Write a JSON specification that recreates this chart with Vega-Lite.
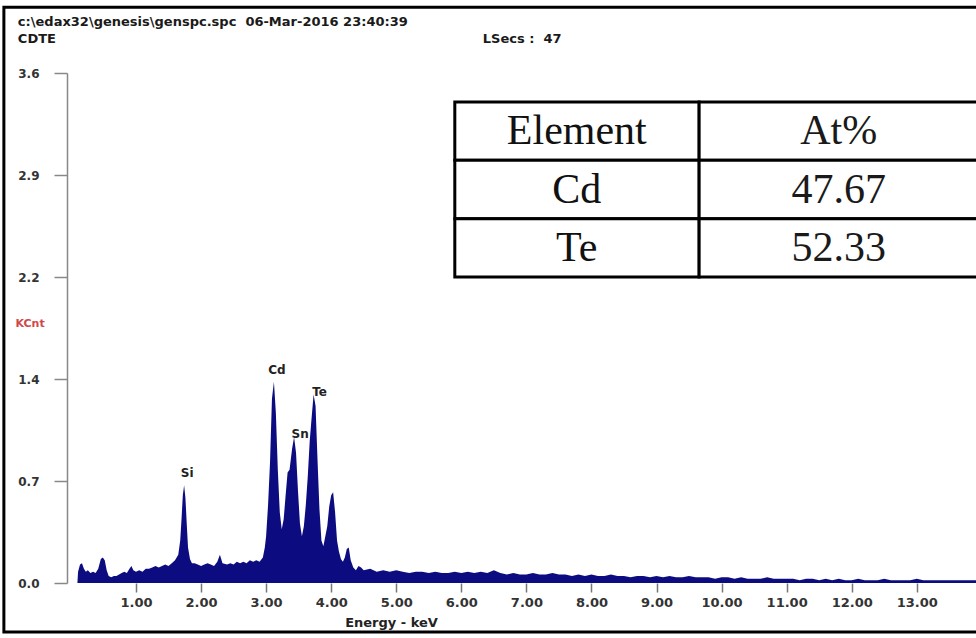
{
  "$schema": "https://vega.github.io/schema/vega-lite/v6.json",
  "width": 909,
  "height": 510,
  "autosize": {"type": "none"},
  "padding": {"left": 67, "top": 73, "right": 0, "bottom": 55},
  "background": "white",
  "config": {
    "view": {"stroke": null},
    "font": "DejaVu Sans"
  },
  "layer": [
    {
      "data": {"name": "spectrum", "values": [
        {"energy": 0.00, "kcnt": 0.0}, {"energy": 0.10, "kcnt": 0.0}, {"energy": 0.11, "kcnt": 0.08},
        {"energy": 0.14, "kcnt": 0.13}, {"energy": 0.17, "kcnt": 0.14}, {"energy": 0.20, "kcnt": 0.10},
        {"energy": 0.23, "kcnt": 0.08}, {"energy": 0.26, "kcnt": 0.09}, {"energy": 0.30, "kcnt": 0.07},
        {"energy": 0.34, "kcnt": 0.08}, {"energy": 0.38, "kcnt": 0.07}, {"energy": 0.42, "kcnt": 0.10},
        {"energy": 0.46, "kcnt": 0.17}, {"energy": 0.49, "kcnt": 0.18}, {"energy": 0.52, "kcnt": 0.16},
        {"energy": 0.55, "kcnt": 0.09}, {"energy": 0.58, "kcnt": 0.05}, {"energy": 0.62, "kcnt": 0.04},
        {"energy": 0.66, "kcnt": 0.05}, {"energy": 0.70, "kcnt": 0.05}, {"energy": 0.74, "kcnt": 0.06},
        {"energy": 0.78, "kcnt": 0.07}, {"energy": 0.82, "kcnt": 0.08}, {"energy": 0.86, "kcnt": 0.07},
        {"energy": 0.90, "kcnt": 0.10}, {"energy": 0.93, "kcnt": 0.12}, {"energy": 0.96, "kcnt": 0.09},
        {"energy": 1.00, "kcnt": 0.08}, {"energy": 1.05, "kcnt": 0.09}, {"energy": 1.10, "kcnt": 0.08},
        {"energy": 1.15, "kcnt": 0.10}, {"energy": 1.20, "kcnt": 0.10}, {"energy": 1.25, "kcnt": 0.11},
        {"energy": 1.30, "kcnt": 0.12}, {"energy": 1.35, "kcnt": 0.11}, {"energy": 1.40, "kcnt": 0.12},
        {"energy": 1.45, "kcnt": 0.13}, {"energy": 1.50, "kcnt": 0.12}, {"energy": 1.55, "kcnt": 0.14},
        {"energy": 1.60, "kcnt": 0.16}, {"energy": 1.65, "kcnt": 0.20}, {"energy": 1.68, "kcnt": 0.30},
        {"energy": 1.70, "kcnt": 0.45}, {"energy": 1.72, "kcnt": 0.62}, {"energy": 1.74, "kcnt": 0.69},
        {"energy": 1.76, "kcnt": 0.60}, {"energy": 1.78, "kcnt": 0.42}, {"energy": 1.80, "kcnt": 0.25},
        {"energy": 1.83, "kcnt": 0.17}, {"energy": 1.86, "kcnt": 0.14}, {"energy": 1.90, "kcnt": 0.14},
        {"energy": 1.95, "kcnt": 0.13}, {"energy": 2.00, "kcnt": 0.12}, {"energy": 2.05, "kcnt": 0.13},
        {"energy": 2.10, "kcnt": 0.14}, {"energy": 2.15, "kcnt": 0.13}, {"energy": 2.20, "kcnt": 0.12},
        {"energy": 2.25, "kcnt": 0.15}, {"energy": 2.29, "kcnt": 0.20}, {"energy": 2.33, "kcnt": 0.14},
        {"energy": 2.40, "kcnt": 0.13}, {"energy": 2.45, "kcnt": 0.14}, {"energy": 2.50, "kcnt": 0.13},
        {"energy": 2.55, "kcnt": 0.15}, {"energy": 2.60, "kcnt": 0.14}, {"energy": 2.65, "kcnt": 0.15},
        {"energy": 2.70, "kcnt": 0.14}, {"energy": 2.75, "kcnt": 0.16}, {"energy": 2.80, "kcnt": 0.15},
        {"energy": 2.85, "kcnt": 0.16}, {"energy": 2.90, "kcnt": 0.15}, {"energy": 2.95, "kcnt": 0.18},
        {"energy": 2.98, "kcnt": 0.25}, {"energy": 3.00, "kcnt": 0.33}, {"energy": 3.03, "kcnt": 0.55},
        {"energy": 3.06, "kcnt": 0.85}, {"energy": 3.09, "kcnt": 1.30}, {"energy": 3.12, "kcnt": 1.42},
        {"energy": 3.15, "kcnt": 1.20}, {"energy": 3.18, "kcnt": 0.80}, {"energy": 3.21, "kcnt": 0.50},
        {"energy": 3.24, "kcnt": 0.38}, {"energy": 3.27, "kcnt": 0.45}, {"energy": 3.30, "kcnt": 0.62},
        {"energy": 3.33, "kcnt": 0.78}, {"energy": 3.36, "kcnt": 0.80}, {"energy": 3.40, "kcnt": 0.95},
        {"energy": 3.43, "kcnt": 1.03}, {"energy": 3.46, "kcnt": 0.92}, {"energy": 3.49, "kcnt": 0.65},
        {"energy": 3.52, "kcnt": 0.42}, {"energy": 3.55, "kcnt": 0.33}, {"energy": 3.58, "kcnt": 0.40},
        {"energy": 3.61, "kcnt": 0.55}, {"energy": 3.64, "kcnt": 0.75}, {"energy": 3.67, "kcnt": 1.00},
        {"energy": 3.70, "kcnt": 1.17}, {"energy": 3.73, "kcnt": 1.33}, {"energy": 3.76, "kcnt": 1.25},
        {"energy": 3.79, "kcnt": 0.87}, {"energy": 3.82, "kcnt": 0.52}, {"energy": 3.85, "kcnt": 0.30},
        {"energy": 3.88, "kcnt": 0.26}, {"energy": 3.91, "kcnt": 0.33}, {"energy": 3.94, "kcnt": 0.40},
        {"energy": 3.97, "kcnt": 0.54}, {"energy": 4.00, "kcnt": 0.62}, {"energy": 4.03, "kcnt": 0.64},
        {"energy": 4.06, "kcnt": 0.50}, {"energy": 4.09, "kcnt": 0.30}, {"energy": 4.12, "kcnt": 0.22},
        {"energy": 4.15, "kcnt": 0.17}, {"energy": 4.18, "kcnt": 0.15}, {"energy": 4.21, "kcnt": 0.18},
        {"energy": 4.24, "kcnt": 0.24}, {"energy": 4.27, "kcnt": 0.25}, {"energy": 4.30, "kcnt": 0.16},
        {"energy": 4.34, "kcnt": 0.11}, {"energy": 4.38, "kcnt": 0.09}, {"energy": 4.42, "kcnt": 0.12},
        {"energy": 4.46, "kcnt": 0.11}, {"energy": 4.50, "kcnt": 0.09}, {"energy": 4.60, "kcnt": 0.10},
        {"energy": 4.70, "kcnt": 0.08}, {"energy": 4.80, "kcnt": 0.09}, {"energy": 4.90, "kcnt": 0.08},
        {"energy": 5.00, "kcnt": 0.09}, {"energy": 5.10, "kcnt": 0.08}, {"energy": 5.20, "kcnt": 0.07},
        {"energy": 5.30, "kcnt": 0.08}, {"energy": 5.40, "kcnt": 0.08}, {"energy": 5.50, "kcnt": 0.07},
        {"energy": 5.60, "kcnt": 0.08}, {"energy": 5.70, "kcnt": 0.07}, {"energy": 5.80, "kcnt": 0.07},
        {"energy": 5.90, "kcnt": 0.08}, {"energy": 6.00, "kcnt": 0.07}, {"energy": 6.10, "kcnt": 0.08},
        {"energy": 6.20, "kcnt": 0.07}, {"energy": 6.30, "kcnt": 0.08}, {"energy": 6.40, "kcnt": 0.07},
        {"energy": 6.50, "kcnt": 0.09}, {"energy": 6.60, "kcnt": 0.07}, {"energy": 6.70, "kcnt": 0.06},
        {"energy": 6.80, "kcnt": 0.07}, {"energy": 6.90, "kcnt": 0.06}, {"energy": 7.00, "kcnt": 0.06},
        {"energy": 7.10, "kcnt": 0.07}, {"energy": 7.20, "kcnt": 0.06}, {"energy": 7.30, "kcnt": 0.06},
        {"energy": 7.40, "kcnt": 0.07}, {"energy": 7.50, "kcnt": 0.06}, {"energy": 7.60, "kcnt": 0.06},
        {"energy": 7.70, "kcnt": 0.05}, {"energy": 7.80, "kcnt": 0.06}, {"energy": 7.90, "kcnt": 0.05},
        {"energy": 8.00, "kcnt": 0.06}, {"energy": 8.10, "kcnt": 0.05}, {"energy": 8.20, "kcnt": 0.05},
        {"energy": 8.30, "kcnt": 0.06}, {"energy": 8.40, "kcnt": 0.05}, {"energy": 8.50, "kcnt": 0.05},
        {"energy": 8.60, "kcnt": 0.04}, {"energy": 8.70, "kcnt": 0.05}, {"energy": 8.80, "kcnt": 0.05},
        {"energy": 8.90, "kcnt": 0.04}, {"energy": 9.00, "kcnt": 0.05}, {"energy": 9.10, "kcnt": 0.04},
        {"energy": 9.20, "kcnt": 0.05}, {"energy": 9.30, "kcnt": 0.04}, {"energy": 9.40, "kcnt": 0.04},
        {"energy": 9.50, "kcnt": 0.05}, {"energy": 9.60, "kcnt": 0.04}, {"energy": 9.70, "kcnt": 0.04},
        {"energy": 9.80, "kcnt": 0.04}, {"energy": 9.90, "kcnt": 0.03}, {"energy": 10.00, "kcnt": 0.04},
        {"energy": 10.10, "kcnt": 0.04}, {"energy": 10.20, "kcnt": 0.03}, {"energy": 10.30, "kcnt": 0.04},
        {"energy": 10.40, "kcnt": 0.03}, {"energy": 10.50, "kcnt": 0.03}, {"energy": 10.60, "kcnt": 0.03},
        {"energy": 10.70, "kcnt": 0.04}, {"energy": 10.80, "kcnt": 0.03}, {"energy": 10.90, "kcnt": 0.03},
        {"energy": 11.00, "kcnt": 0.03}, {"energy": 11.10, "kcnt": 0.03}, {"energy": 11.20, "kcnt": 0.02},
        {"energy": 11.30, "kcnt": 0.03}, {"energy": 11.40, "kcnt": 0.03}, {"energy": 11.50, "kcnt": 0.02},
        {"energy": 11.60, "kcnt": 0.03}, {"energy": 11.70, "kcnt": 0.02}, {"energy": 11.80, "kcnt": 0.03},
        {"energy": 11.90, "kcnt": 0.02}, {"energy": 12.00, "kcnt": 0.02}, {"energy": 12.10, "kcnt": 0.03},
        {"energy": 12.20, "kcnt": 0.02}, {"energy": 12.30, "kcnt": 0.02}, {"energy": 12.40, "kcnt": 0.02},
        {"energy": 12.50, "kcnt": 0.03}, {"energy": 12.60, "kcnt": 0.02}, {"energy": 12.70, "kcnt": 0.02},
        {"energy": 12.80, "kcnt": 0.02}, {"energy": 12.90, "kcnt": 0.02}, {"energy": 13.00, "kcnt": 0.03},
        {"energy": 13.10, "kcnt": 0.02}, {"energy": 13.20, "kcnt": 0.02}, {"energy": 13.30, "kcnt": 0.02},
        {"energy": 13.40, "kcnt": 0.02}, {"energy": 13.50, "kcnt": 0.02}, {"energy": 13.60, "kcnt": 0.02},
        {"energy": 13.70, "kcnt": 0.02}, {"energy": 13.80, "kcnt": 0.02}, {"energy": 13.90, "kcnt": 0.02},
        {"energy": 14.00, "kcnt": 0.02}
      ]},
      "layer": [
        {
          "data": {"values": [{}]},
          "mark": {"type": "rect", "fill": null, "stroke": "#000000", "strokeWidth": 3},
          "encoding": {
            "x": {"datum": -1.03, "type": "quantitative"},
            "x2": {"datum": 16},
            "y": {"datum": 4.065, "type": "quantitative"},
            "y2": {"datum": -0.346}
          }
        },
        {
          "mark": {"type": "area", "color": "#0c0c80", "interpolate": "linear"},
          "encoding": {
            "x": {
              "field": "energy", "type": "quantitative",
              "scale": {"domain": [-0.06, 13.91], "nice": false, "zero": false},
              "axis": {
                "values": [1, 2, 3, 4, 5, 6, 7, 8, 9, 10, 11, 12, 13, 14],
                "format": ".2f",
                "title": "Energy - keV",
                "titleX": 324,
                "titleY": 43,
                "titleAlign": "center",
                "titleBaseline": "alphabetic",
                "titleFont": "DejaVu Sans",
                "titleFontSize": 13,
                "titleFontWeight": "bold",
                "titleColor": "#222222",
                "domain": false,
                "grid": false,
                "ticks": true,
                "tickColor": "#777777",
                "tickSize": 9,
                "tickWidth": 1.5,
                "labelFont": "DejaVu Sans",
                "labelFontSize": 13,
                "labelFontWeight": "bold",
                "labelColor": "#333333",
                "labelPadding": 4,
                "labelOverlap": false,
                "labelFlush": false
              }
            },
            "y": {
              "field": "kcnt", "type": "quantitative",
              "scale": {"domain": [0, 3.6], "nice": false},
              "axis": {
                "values": [0, 0.72, 1.44, 2.16, 2.88, 3.6],
                "format": ".1f",
                "title": "KCnt",
                "titleAngle": 0,
                "titleX": -52,
                "titleY": 250,
                "titleAlign": "left",
                "titleBaseline": "middle",
                "titleFont": "DejaVu Sans",
                "titleFontSize": 11,
                "titleFontWeight": "bold",
                "titleColor": "#d04848",
                "domain": true,
                "domainColor": "#888888",
                "domainWidth": 1.5,
                "grid": false,
                "tickColor": "#888888",
                "tickSize": 13,
                "tickWidth": 1.5,
                "labelFont": "DejaVu Sans",
                "labelFontSize": 12,
                "labelFontWeight": "bold",
                "labelColor": "#333333",
                "labelPadding": 15,
                "labelOverlap": false,
                "labelFlush": false
              }
            }
          }
        },
        {
          "data": {"name": "peaks", "values": [
            {"element": "Si", "energy": 1.74, "kcnt": 0.69},
            {"element": "Cd", "energy": 3.12, "kcnt": 1.42},
            {"element": "Sn", "energy": 3.43, "kcnt": 1.03},
            {"element": "Te", "energy": 3.73, "kcnt": 1.33}
          ]},
          "transform": [{"filter": "datum.element == 'Cd' || datum.element == 'Si'"}],
          "mark": {"type": "text", "font": "DejaVu Sans", "fontSize": 12, "fontWeight": "bold", "color": "#222222", "baseline": "bottom", "dx": 3, "dy": -5},
          "encoding": {
            "x": {"field": "energy", "type": "quantitative"},
            "y": {"field": "kcnt", "type": "quantitative"},
            "text": {"field": "element"}
          }
        },
        {
          "data": {"name": "peaks"},
          "transform": [{"filter": "datum.element == 'Sn' || datum.element == 'Te'"}],
          "mark": {"type": "text", "font": "DejaVu Sans", "fontSize": 12, "fontWeight": "bold", "color": "#222222", "baseline": "middle", "dx": 6, "dy": -3},
          "encoding": {
            "x": {"field": "energy", "type": "quantitative"},
            "y": {"field": "kcnt", "type": "quantitative"},
            "text": {"field": "element"}
          }
        },
        {
          "data": {"values": [{"header": "c:\\edax32\\genesis\\genspc.spc\u00a0\u00a006-Mar-2016 23:40:39"}]},
          "mark": {"type": "text", "font": "DejaVu Sans", "fontSize": 13, "fontWeight": "bold", "color": "#1a1a1a", "align": "left", "baseline": "middle"},
          "encoding": {
            "x": {"datum": -0.815, "type": "quantitative"},
            "y": {"datum": 3.96, "type": "quantitative"},
            "text": {"field": "header"}
          }
        },
        {
          "data": {"values": [{"sample": "CDTE"}]},
          "mark": {"type": "text", "font": "DejaVu Sans", "fontSize": 13, "fontWeight": "bold", "color": "#1a1a1a", "align": "left", "baseline": "middle"},
          "encoding": {
            "x": {"datum": -0.815, "type": "quantitative"},
            "y": {"datum": 3.84, "type": "quantitative"},
            "text": {"field": "sample"}
          }
        },
        {
          "data": {"values": [{"live": "LSecs :\u00a0 47"}]},
          "mark": {"type": "text", "font": "DejaVu Sans", "fontSize": 13, "fontWeight": "bold", "color": "#1a1a1a", "align": "left", "baseline": "middle"},
          "encoding": {
            "x": {"datum": 6.33, "type": "quantitative"},
            "y": {"datum": 3.84, "type": "quantitative"},
            "text": {"field": "live"}
          }
        }
      ]
    },
    {
      "data": {"values": [
        {"element": "Element", "atpct": "At%"},
        {"element": "Cd", "atpct": "47.67"},
        {"element": "Te", "atpct": "52.33"}
      ]},
      "layer": [
        {
          "mark": {"type": "rect", "fill": "#ffffff", "stroke": "#000000", "strokeWidth": 3},
          "encoding": {
            "x": {"datum": 5.90, "type": "quantitative"},
            "x2": {"datum": 9.655},
            "y": {"field": "element", "type": "nominal", "sort": null,
                  "scale": {"type": "band", "domain": ["Element", "Cd", "Te"], "range": [29, 204], "paddingInner": 0, "paddingOuter": 0},
                  "axis": null}
          }
        },
        {
          "mark": {"type": "rect", "fill": "#ffffff", "stroke": "#000000", "strokeWidth": 3},
          "encoding": {
            "x": {"datum": 9.655, "type": "quantitative"},
            "x2": {"datum": 14.3},
            "y": {"field": "element", "type": "nominal", "sort": null, "axis": null}
          }
        },
        {
          "mark": {"type": "text", "font": "Liberation Serif", "fontSize": 42, "color": "#111111", "baseline": "middle", "align": "center"},
          "encoding": {
            "x": {"datum": 7.775, "type": "quantitative"},
            "y": {"field": "element", "type": "nominal", "sort": null, "axis": null},
            "text": {"field": "element"}
          }
        },
        {
          "mark": {"type": "text", "font": "Liberation Serif", "fontSize": 42, "color": "#1a1a1a", "baseline": "middle", "align": "center"},
          "encoding": {
            "x": {"datum": 11.80, "type": "quantitative"},
            "y": {"field": "element", "type": "nominal", "sort": null, "axis": null},
            "text": {"field": "atpct"}
          }
        }
      ]
    }
  ],
  "resolve": {"scale": {"y": "independent"}, "axis": {"y": "independent"}}
}
